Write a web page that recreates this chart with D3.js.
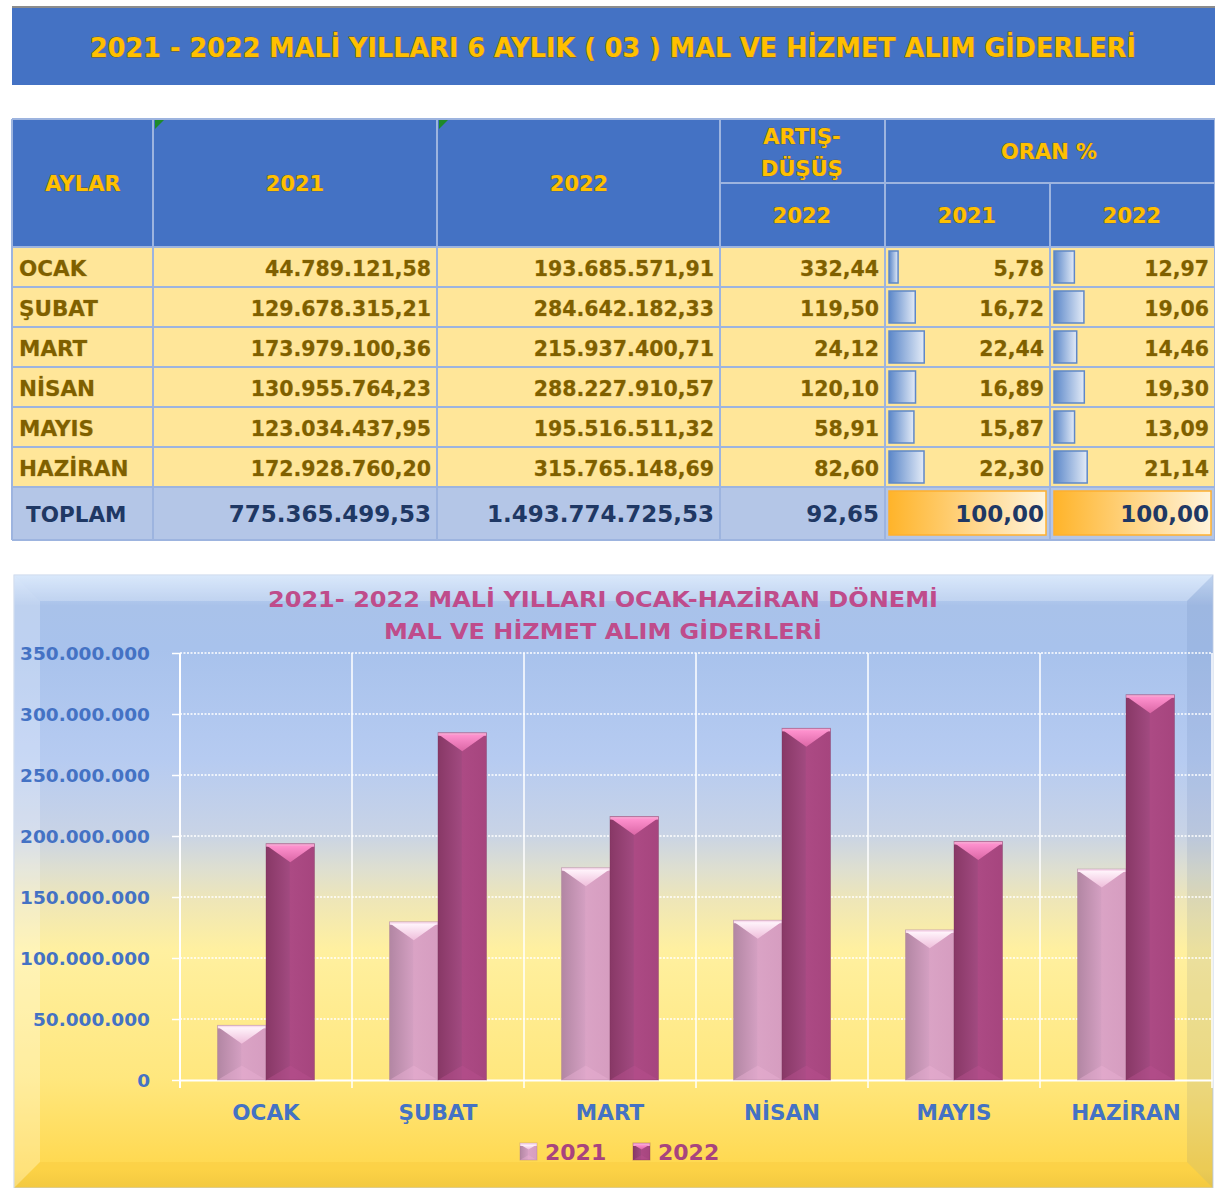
<!DOCTYPE html>
<html>
<head>
<meta charset="utf-8">
<script src="https://cdn.jsdelivr.net/npm/d3@7"></script>
<style>
  body { margin: 0; background: #fff; }
  svg text { font-family: "DejaVu Sans", sans-serif; font-weight: bold; }
</style>
</head>
<body>
<div id="page"></div>
<script>
// data
const months = ["OCAK", "ŞUBAT", "MART", "NİSAN", "MAYIS", "HAZİRAN"];
const years = ["2021", "2022"];
const values2021 = [44789121.58, 129678315.21, 173979100.36, 130955764.23, 123034437.95, 172928760.20];
const values2022 = [193685571.91, 284642182.33, 215937400.71, 288227910.57, 195516511.32, 315765148.69];
const change2022 = [332.44, 119.50, 24.12, 120.10, 58.91, 82.60];
const share2021 = [5.78, 16.72, 22.44, 16.89, 15.87, 22.30];
const share2022 = [12.97, 19.06, 14.46, 19.30, 13.09, 21.14];
const totals = [775365499.53, 1493774725.53, 92.65, 100.00, 100.00];
const yTicks = [0, 50000000, 100000000, 150000000, 200000000, 250000000, 300000000, 350000000];

const trLocale = d3.formatLocale({ decimal: ",", thousands: ".", grouping: [3], currency: ["", ""] });
const fmt2 = trLocale.format(",.2f");
const fmt0 = trLocale.format(",.0f");

const svg = d3.select("#page").append("svg")
  .attr("width", 1215).attr("height", 1188);

const defs = svg.append("defs");

function gradient(id, stops, vertical) {
  const g = defs.append("linearGradient").attr("id", id)
    .attr("x1", 0).attr("y1", 0).attr("x2", vertical ? 0 : 1).attr("y2", vertical ? 1 : 0);
  stops.forEach(s => g.append("stop").attr("offset", s[0]).attr("stop-color", s[1]));
}

// ---------- banner ----------
svg.append("rect").attr("x", 12).attr("y", 6).attr("width", 1203).attr("height", 2).attr("fill", "#8c8c8c");
svg.append("rect").attr("x", 12).attr("y", 8).attr("width", 1203).attr("height", 77).attr("fill", "#4472c4");
svg.append("text")
  .attr("x", 613).attr("y", 57)
  .attr("text-anchor", "middle")
  .attr("textLength", 1046).attr("lengthAdjust", "spacingAndGlyphs")
  .style("font-size", "26.5px")
  .attr("fill", "#ffc000").attr("stroke", "#7a5a10").attr("stroke-width", 0.8)
  .style("paint-order", "stroke")
  .text("2021 - 2022 MALİ YILLARI 6 AYLIK ( 03 ) MAL VE HİZMET ALIM GİDERLERİ");

// ---------- table ----------
const colEdges = [12, 153, 437, 720, 885, 1050, 1215];
const tableTop = 119, headMid = 183, headBottom = 247, rowH = 40;
const totalTop = headBottom + rowH * months.length, totalBottom = 540;
const lineColor = "#9db4df";

const table = svg.append("g");

table.append("rect").attr("x", 12).attr("y", tableTop).attr("width", 1203)
  .attr("height", headBottom - tableTop).attr("fill", "#4472c4");
table.append("rect").attr("x", 12).attr("y", headBottom).attr("width", 1203)
  .attr("height", rowH * months.length).attr("fill", "#ffe699");
table.append("rect").attr("x", 12).attr("y", totalTop).attr("width", 1203)
  .attr("height", totalBottom - totalTop).attr("fill", "#b4c6e7");

// grid lines
const hLines = d3.range(months.length + 1).map(i => headBottom + i * rowH);
table.selectAll(".hl").data([tableTop, ...hLines, totalBottom]).enter().append("line")
  .attr("x1", 12).attr("x2", 1215).attr("y1", d => d).attr("y2", d => d)
  .attr("stroke", lineColor).attr("stroke-width", 2);
table.append("line").attr("x1", colEdges[3]).attr("x2", 1215).attr("y1", headMid).attr("y2", headMid)
  .attr("stroke", lineColor).attr("stroke-width", 2);
table.selectAll(".vl").data(colEdges).enter().append("line")
  .attr("x1", d => d).attr("x2", d => d)
  .attr("y1", (d, i) => i === 5 ? headMid : tableTop).attr("y2", totalBottom)
  .attr("stroke", lineColor).attr("stroke-width", 2);

// little green comment markers
[colEdges[1], colEdges[2]].forEach(x => {
  table.append("path").attr("d", `M${x + 2},${tableTop + 1}h9l-9,9z`).attr("fill", "#1e8a2a");
});

function headText(x, y, t) {
  table.append("text").attr("x", x).attr("y", y).attr("text-anchor", "middle")
    .style("font-size", "21px")
    .attr("fill", "#ffc000").attr("stroke", "#6b5518").attr("stroke-width", 0.7)
    .style("paint-order", "stroke")
    .text(t);
}
headText(83, 191, "AYLAR");
headText(295, 191, "2021");
headText(579, 191, "2022");
headText(802, 144, "ARTIŞ-");
headText(802, 176, "DÜŞÜŞ");
headText(802, 223, "2022");
headText(1049, 159, "ORAN %");
headText(967, 223, "2021");
headText(1132, 223, "2022");

// data bars in the ORAN columns
const barScale = d3.scaleLinear().domain([0, 100]).range([0, 157]);
gradient("dbBlue", [["0%", "#5b87c9"], ["100%", "#e3ebf7"]]);
gradient("dbOrange", [["0%", "#ffb42a"], ["100%", "#fff4dc"]]);

[share2021, share2022].forEach((arr, k) => {
  const x0 = colEdges[4 + k] + 4;
  table.selectAll(".db" + k).data(arr).enter().append("rect")
    .attr("x", x0).attr("y", (d, i) => headBottom + i * rowH + 4)
    .attr("width", d => barScale(d)).attr("height", rowH - 8)
    .attr("fill", "url(#dbBlue)").attr("stroke", "#5f88c8").attr("stroke-width", 1.5);
  table.append("rect")
    .attr("x", x0).attr("y", totalTop + 4)
    .attr("width", barScale(totals[3 + k])).attr("height", totalBottom - totalTop - 9)
    .attr("fill", "url(#dbOrange)").attr("stroke", "#ffb02e").attr("stroke-width", 1.5);
});

// row text
const rows = months.map((m, i) => [m, fmt2(values2021[i]), fmt2(values2022[i]),
  fmt2(change2022[i]), fmt2(share2021[i]), fmt2(share2022[i])]);
rows.forEach((r, i) => {
  const y = headBottom + i * rowH + 29;
  r.forEach((t, j) => {
    table.append("text")
      .attr("x", j === 0 ? 19 : colEdges[j + 1] - 6).attr("y", y)
      .attr("text-anchor", j === 0 ? "start" : "end")
      .style("font-size", j === 0 ? "21.5px" : "20.5px")
      .attr("fill", "#7f6000").attr("stroke", "#c9a640").attr("stroke-width", 0.4)
      .style("paint-order", "stroke")
      .text(t);
  });
});
const totalRow = ["TOPLAM", ...totals.map(fmt2)];
totalRow.forEach((t, j) => {
  table.append("text")
    .attr("x", j === 0 ? 26 : colEdges[j + 1] - 6).attr("y", totalTop + 35)
    .attr("text-anchor", j === 0 ? "start" : "end")
    .style("font-size", j === 0 ? "21.5px" : "23px")
    .attr("fill", "#1f3864")
    .text(t);
});

// ---------- chart ----------
const cx0 = 14, cy0 = 575, cw = 1199, ch = 613;
gradient("chartBg", [["0%", "#cfe2fa"], ["5%", "#a9c2ea"], ["12%", "#a8c2ec"], ["30%", "#b6cbf1"],
  ["42%", "#c8d3e6"], ["48%", "#dedfd0"], ["53%", "#eee6b8"], ["61%", "#fff0a0"],
  ["82%", "#ffe77e"], ["97%", "#ffd84e"], ["100%", "#f5cf48"]], true);

const chart = svg.append("g");
chart.append("rect").attr("x", cx0).attr("y", cy0).attr("width", cw).attr("height", ch)
  .attr("fill", "url(#chartBg)").attr("stroke", "#c6d4ea").attr("stroke-width", 1);

// bevel edges
const bv = 26;
chart.append("path").attr("d", `M${cx0},${cy0}h${cw}l-${bv},${bv}h-${cw - 2 * bv}z`)
  .attr("fill", "#ffffff").attr("opacity", 0.22);
chart.append("path").attr("d", `M${cx0},${cy0}l${bv},${bv}v${ch - 2 * bv}l-${bv},${bv}z`)
  .attr("fill", "#ffffff").attr("opacity", 0.25);
chart.append("path").attr("d", `M${cx0 + cw},${cy0}v${ch}l-${bv},-${bv}v-${ch - 2 * bv}z`)
  .attr("fill", "#3a5a90").attr("opacity", 0.1);
chart.append("path").attr("d", `M${cx0},${cy0 + ch}h${cw}l-${bv},-${bv}h-${cw - 2 * bv}z`)
  .attr("fill", "#e0a000").attr("opacity", 0.1);

// chart title
const titleColor = "#bf4c8b";
chart.append("text").attr("x", 603).attr("y", 607).attr("text-anchor", "middle")
  .attr("textLength", 670).attr("lengthAdjust", "spacingAndGlyphs")
  .style("font-size", "22px").attr("fill", titleColor)
  .text("2021- 2022 MALİ YILLARI OCAK-HAZİRAN DÖNEMİ");
chart.append("text").attr("x", 603).attr("y", 639).attr("text-anchor", "middle")
  .attr("textLength", 438).attr("lengthAdjust", "spacingAndGlyphs")
  .style("font-size", "22px").attr("fill", titleColor)
  .text("MAL VE HİZMET ALIM GİDERLERİ");

// scales
const x0 = d3.scaleBand().domain(months).range([180, 1212]).padding(0);
const x1 = d3.scaleBand().domain(years)
  .range([(x0.bandwidth() - 97) / 2, (x0.bandwidth() + 97) / 2]);
const y = d3.scaleLinear().domain([0, 350000000]).range([1080, 653]);

// y axis
const yAxis = chart.append("g").attr("transform", "translate(180,0)")
  .call(d3.axisLeft(y).tickValues(yTicks).tickFormat(fmt0).tickSize(8).tickPadding(22));
yAxis.select(".domain").attr("stroke", "#fff").attr("stroke-width", 2).attr("d", "M0,653V1088");
yAxis.selectAll(".tick line").attr("stroke", "#fff").attr("stroke-width", 1.5);
yAxis.selectAll(".tick text").attr("fill", "#4472c4").style("font-size", "18.5px")
  .style("font-family", "DejaVu Sans").style("font-weight", "bold").attr("dy", "0.36em");

// horizontal grid
chart.selectAll(".grid").data(yTicks.filter(d => d > 0)).enter().append("line")
  .attr("x1", 180).attr("x2", 1212).attr("y1", d => y(d)).attr("y2", d => y(d))
  .attr("stroke", "#fff").attr("stroke-width", 1.5).attr("stroke-dasharray", "2,1.5");

// vertical category lines
chart.selectAll(".vgrid").data(d3.range(1, months.length + 1)).enter().append("line")
  .attr("x1", i => 180 + i * x0.bandwidth()).attr("x2", i => 180 + i * x0.bandwidth())
  .attr("y1", 653).attr("y2", 1088)
  .attr("stroke", "#fff").attr("stroke-width", 1.5);

// x axis
const xAxis = chart.append("g").attr("transform", "translate(0,1080)")
  .call(d3.axisBottom(x0).tickSize(0).tickPadding(40));
xAxis.select(".domain").attr("stroke", "#fff").attr("stroke-width", 2);
xAxis.selectAll(".tick text").attr("fill", "#4472c4").style("font-size", "21.5px")
  .style("font-family", "DejaVu Sans").style("font-weight", "bold").attr("dy", "0");

// bar gradients (bevelled column look)
gradient("face2021", [["0%", "#b286a3"], ["48%", "#d39fc1"], ["50%", "#daa3c5"], ["100%", "#d69dc0"]]);
gradient("face2022", [["0%", "#883866"], ["48%", "#a14a80"], ["50%", "#ac4a84"], ["100%", "#a6457e"]]);
gradient("cap2021", [["0%", "#fff4fb"], ["100%", "#efbedb"]], true);
gradient("cap2022", [["0%", "#ff92cf"], ["100%", "#db67a6"]], true);
const barStyle = {
  "2021": { face: "url(#face2021)", cap: "url(#cap2021)", rim: "#f9dcee", bottom: "#e8b0d2", edge: "#a07590" },
  "2022": { face: "url(#face2022)", cap: "url(#cap2022)", rim: "#f6a6d2", bottom: "#b9508e", edge: "#7a3058" }
};
const barData = [];
months.forEach((m, i) => {
  barData.push({ month: m, year: "2021", value: values2021[i] });
  barData.push({ month: m, year: "2022", value: values2022[i] });
});

function drawBar(g, x, yTop, w, yBot, s) {
  const h = yBot - yTop;
  const cap = Math.min(w * 0.38, h / 2);
  g.append("rect").attr("x", x).attr("y", yTop).attr("width", w).attr("height", h).attr("fill", s.face);
  g.append("path").attr("d", `M${x},${yBot}H${x + w}L${x + w / 2},${yBot - w * 0.3}z`)
    .attr("fill", s.bottom).attr("opacity", 0.45);
  g.append("rect").attr("x", x).attr("y", yTop).attr("width", w).attr("height", Math.min(3, h)).attr("fill", s.rim);
  g.append("path").attr("d", `M${x + 1},${yTop + 2}H${x + w - 1}L${x + w / 2},${yTop + cap}z`).attr("fill", s.cap);
  g.append("rect").attr("x", x).attr("y", yTop).attr("width", w).attr("height", h)
    .attr("fill", "none").attr("stroke", s.edge).attr("stroke-opacity", 0.35).attr("stroke-width", 1);
}

const barsG = chart.append("g");
barData.forEach(d => {
  drawBar(barsG, x0(d.month) + x1(d.year), y(d.value), x1.bandwidth(), y(0), barStyle[d.year]);
});

// legend
const legend = chart.append("g");
years.forEach((yr, i) => {
  const lx = 520 + i * 113;
  drawBar(legend, lx, 1143, 17, 1160, barStyle[yr]);
  legend.append("text").attr("x", lx + 25).attr("y", 1160)
    .style("font-size", "22px").attr("fill", "#a8447e").text(yr);
});
</script>
</body>
</html>
